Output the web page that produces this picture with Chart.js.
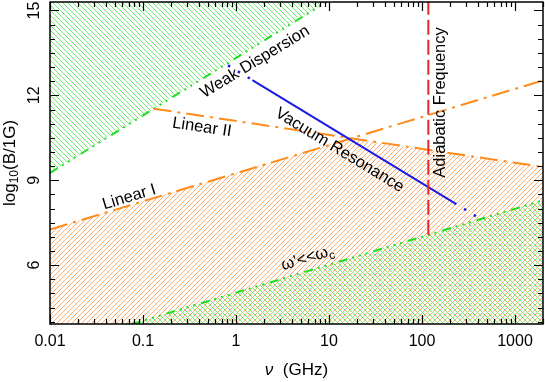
<!DOCTYPE html>
<html>
<head>
<meta charset="utf-8">
<script src="https://cdn.jsdelivr.net/npm/chart.js"></script>
<style>html,body{margin:0;padding:0;background:#fff}</style>
</head>
<body>
<canvas id="myChart" width="545" height="382"></canvas>
<script>
// tick labels
var xTicks = [0.01, 0.1, 1, 10, 100, 1000];
var yTicks = [6, 9, 12, 15];

// lines (nu in GHz, log10 B)
var weakDisp = [{x: 0.01, y: 9.26}, {x: 9.4, y: 15.3}];
var linear1 = [{x: 0.01, y: 7.26}, {x: 2000, y: 12.53}];
var linear2 = [{x: 0.13, y: 11.53}, {x: 2000, y: 9.47}];
var linearFloor = [{x: 0.01, y: 7.26}, {x: 16.6, y: 10.48}, {x: 2000, y: 9.47}];
var omegaLine = [{x: 0.076, y: 3.92}, {x: 2000, y: 8.29}];
var vacRes = [{x: 1.5, y: 12.54}, {x: 222, y: 8.2}];
var vacResLo = [{x: 0.82, y: 13.06}, {x: 1.5, y: 12.54}];
var vacResHi = [{x: 222, y: 8.2}, {x: 411, y: 7.66}];
var adiabatic = [{x: 117, y: 7.07}, {x: 117, y: 15.3}];

var FONT = 'Liberation Sans';

// crisp one-pixel diagonal hatching
function hatch(color, dir, s) {
  var c = document.createElement('canvas');
  c.width = s; c.height = s;
  var g = c.getContext('2d');
  g.fillStyle = color;
  for (var y = 0; y < s; y++) {
    var x = dir === '\\' ? y : s - 1 - y;
    g.fillRect(x, y, 1, 1);
  }
  return g.createPattern(c, 'repeat');
}

var greenHatch = hatch('#70ec70', '\\', 5);
var orangeHatch = hatch('#ffab6e', '/', 5);

var GREEN = '#1ede1e', ORANGE = '#ff8c1a', BLUE = '#1a1ae6';
var greenDash = [9, 5, 2, 5, 2, 5, 2, 6];
var orangeDash = [18, 6, 3, 6];

// text placed on the plot, in data coordinates
var notes = [
  {parts: [['Weak Dispersion']], x: 1.6, y: 13.18, rot: -31.3},
  {parts: [['Vacuum Resonance']], x: 13.0, y: 10.06, rot: 31.3},
  {parts: [['Linear II']], x: 0.43, y: 10.87, rot: 8.6},
  {parts: [['Linear I']], x: 0.071, y: 8.4, rot: -16.9},
  {parts: [["\u03c9'<<\u03c9"], ['c', 'sub']], x: 5.9, y: 6.25, rot: -17},
  {parts: [['Adiabatic Frequency']], x: 157, y: 11.75, rot: -90}
];

function drawRich(ctx, parts, cx, cy, rot, size) {
  ctx.save();
  ctx.translate(cx, cy);
  ctx.rotate(rot * Math.PI / 180);
  ctx.textBaseline = 'middle';
  ctx.textAlign = 'left';
  var w = 0;
  parts.forEach(function(p) {
    ctx.font = (p[1] === 'sub' ? Math.round(size * 0.7) : size) + 'px "' + FONT + '"';
    w += ctx.measureText(p[0]).width;
  });
  var x = -w / 2;
  parts.forEach(function(p) {
    var sub = p[1] === 'sub';
    ctx.font = (sub ? Math.round(size * 0.7) : size) + 'px "' + FONT + '"';
    ctx.fillText(p[0], x, sub ? size * 0.3 : 0);
    x += ctx.measureText(p[0]).width;
  });
  ctx.restore();
}

var decorPlugin = {
  id: 'decor',
  afterDatasetsDraw: function(chart) {
    var ctx = chart.ctx, a = chart.chartArea;
    var xs = chart.scales.x, ys = chart.scales.y;
    ctx.save();
    ctx.fillStyle = '#000';
    notes.forEach(function(n) {
      drawRich(ctx, n.parts, xs.getPixelForValue(n.x), ys.getPixelForValue(n.y), n.rot, 16.5);
    });

    // ticks pointing inward on all four sides
    ctx.strokeStyle = '#000';
    ctx.lineWidth = 1.2;
    ctx.beginPath();
    for (var d = -2; d <= 3; d++) {
      for (var k = 1; k <= 9; k++) {
        var v = k * Math.pow(10, d);
        if (v < 0.01 || v > 2000) continue;
        var px = Math.round(xs.getPixelForValue(v)) + 0.5;
        var len = k === 1 ? 9 : 5;
        ctx.moveTo(px, a.bottom); ctx.lineTo(px, a.bottom - len);
        ctx.moveTo(px, a.top); ctx.lineTo(px, a.top + len);
      }
    }
    for (var i = 8; i <= 30; i++) {
      var yv = i / 2;
      var py = Math.round(ys.getPixelForValue(yv)) + 0.5;
      var ylen = (yv % 3 === 0) ? 9 : 5;
      ctx.moveTo(a.left, py); ctx.lineTo(a.left + ylen, py);
      ctx.moveTo(a.right, py); ctx.lineTo(a.right - ylen, py);
    }
    ctx.stroke();
    ctx.lineWidth = 1.5;
    ctx.strokeRect(a.left, a.top, a.right - a.left, a.bottom - a.top);

    // axis titles
    ctx.textBaseline = 'middle';
    ctx.textAlign = 'left';
    ctx.font = 'italic 17px "' + FONT + '"';
    var t1 = '\u03bd', t2 = '  (GHz)';
    var w1 = ctx.measureText(t1).width;
    ctx.font = '17px "' + FONT + '"';
    var w2 = ctx.measureText(t2).width;
    var cx = (a.left + a.right) / 2 - (w1 + w2) / 2;
    ctx.font = 'italic 17px "' + FONT + '"';
    ctx.fillText(t1, cx, 370);
    ctx.font = '17px "' + FONT + '"';
    ctx.fillText(t2, cx + w1, 370);

    drawRich(ctx, [['log'], ['10', 'sub'], ['(B/1G)']], 10, (a.top + a.bottom) / 2, -90, 17);
    ctx.restore();
  }
};

function noPad(s) {
  s.paddingTop = 0; s.paddingBottom = 0; s.paddingLeft = 0; s.paddingRight = 0;
}

const ctx = document.getElementById('myChart');

new Chart(ctx, {
  type: 'line',
  data: {
    datasets: [
      {data: linearFloor, borderWidth: 0, pointRadius: 0, fill: 'start', backgroundColor: orangeHatch, order: 10},
      {data: omegaLine, borderColor: GREEN, borderWidth: 2, borderDash: greenDash, pointRadius: 0, fill: 'start', backgroundColor: greenHatch, order: 9},
      {data: weakDisp, borderColor: GREEN, borderWidth: 2, borderDash: greenDash, pointRadius: 0, fill: 'end', backgroundColor: greenHatch, order: 8},
      {data: linear1, borderColor: ORANGE, borderWidth: 2, borderDash: orangeDash, pointRadius: 0, fill: false, order: 5},
      {data: linear2, borderColor: ORANGE, borderWidth: 2, borderDash: orangeDash, pointRadius: 0, fill: false, order: 5},
      {data: vacRes, borderColor: BLUE, borderWidth: 2, pointRadius: 0, fill: false, order: 3},
      {data: vacResLo, borderColor: BLUE, borderWidth: 2.5, borderDash: [2.5, 9], pointRadius: 0, fill: false, order: 3},
      {data: vacResHi, borderColor: BLUE, borderWidth: 2.5, borderDash: [2.5, 9], pointRadius: 0, fill: false, order: 3},
      {data: adiabatic, borderColor: '#e8262a', borderWidth: 2, borderDash: [15, 5], pointRadius: 0, fill: false, order: 2}
    ]
  },
  options: {
    responsive: false,
    animation: false,
    layout: {padding: {top: 2, right: 2, left: 0, bottom: 0}},
    plugins: {legend: {display: false}, tooltip: {enabled: false}},
    scales: {
      x: {
        type: 'logarithmic', min: 0.01, max: 2000,
        grid: {display: false, drawTicks: false}, border: {display: false},
        afterBuildTicks: function(s) { s.ticks = xTicks.map(function(v) { return {value: v}; }); },
        afterFit: function(s) { s.height = 58; noPad(s); },
        ticks: {autoSkip: false, maxRotation: 0, padding: 8, color: '#000',
          font: {family: FONT, size: 16},
          callback: function(v) { return String(v); }}
      },
      y: {
        type: 'linear', min: 3.92, max: 15.3,
        grid: {display: false, drawTicks: false}, border: {display: false},
        afterBuildTicks: function(s) { s.ticks = yTicks.map(function(v) { return {value: v}; }); },
        afterFit: function(s) { s.width = 50; noPad(s); },
        ticks: {minRotation: 90, maxRotation: 90, crossAlign: 'center', padding: 7, color: '#000',
          font: {family: FONT, size: 16}}
      }
    }
  },
  plugins: [decorPlugin]
});
</script>
</body>
</html>
